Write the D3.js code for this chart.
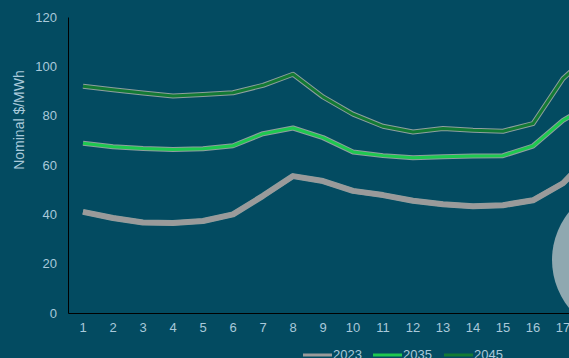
<!DOCTYPE html>
<html>
<head>
<meta charset="utf-8">
<script src="https://cdn.jsdelivr.net/npm/d3@7"></script>
<style>
  body { margin: 0; background: #034b61; }
  svg { display: block; }
</style>
</head>
<body>
<div id="chart"></div>
<script>
// hours of the day (only 1-17 fit in the picture)
const hours = d3.range(1, 25)
const series_names = ['2023', '2035', '2045']
const price_2023 = [41, 38.5, 36.7, 36.5, 37.3, 40, 47.5, 55.5, 53.5, 49.5, 47.8, 45.5, 44.1, 43.3, 43.7, 45.7, 52.6, 65, 68, 64, 57, 50, 45, 42]
const price_2035 = [68.8, 67.4, 66.7, 66.3, 66.6, 67.8, 72.7, 75, 71.1, 65.3, 63.8, 62.9, 63.3, 63.6, 63.8, 67.7, 78.1, 85, 88, 84, 78, 73, 70, 69]
const price_2045 = [91.9, 90.5, 89.2, 88, 88.6, 89.3, 92.3, 96.8, 87.6, 80.6, 75.7, 73.4, 74.8, 74.1, 73.7, 76.8, 95, 106, 110, 105, 99, 95, 93, 92]
const y_ticks = [0, 20, 40, 60, 80, 100, 120]

let colors = ['#9a9a9a', '#1ec84f', '#137a34']
let w_full = 569, h_full = 358
let margin = {top: 17, left: 68, bottom: 45}
let text_col = '#a9c9da'

let svg = d3.select('#chart')
    .append('svg')
    .attr('width', w_full)
    .attr('height', h_full)
    .style('font-family', 'Liberation Sans, Arial, sans-serif')

// full chart is wider than the window, it gets cut off on the right
const x = d3.scaleBand()
    .domain(hours)
    .range([margin.left, margin.left + 30 * hours.length])

const y = d3.scaleLinear()
    .domain([0, 120])
    .range([h_full - margin.bottom, margin.top])

// Y axis
let yAxis = svg.append('g')
    .attr('transform', 'translate(' + margin.left + ',0)')
    .call(d3.axisLeft(y).tickValues(y_ticks).tickSize(0).tickPadding(11))
yAxis.select('.domain').attr('stroke', '#000')
yAxis.selectAll('text').attr('fill', text_col).attr('font-size', 13)

// X axis
let xAxis = svg.append('g')
    .attr('transform', 'translate(0,' + y(0) + ')')
    .call(d3.axisBottom(x).tickSize(0).tickPadding(10))
xAxis.select('.domain').attr('stroke', '#000')
xAxis.selectAll('text').attr('fill', text_col).attr('font-size', 13)

svg.append('text')
    .text('Nominal $/MWh')
    .attr('transform', 'translate(24,120) rotate(-90)')
    .attr('text-anchor', 'middle')
    .attr('fill', text_col)
    .attr('font-size', 14)

const all_series = [price_2023, price_2035, price_2045]
const line = d3.line()
    .x((d, i) => x(hours[i]) + x.bandwidth() / 2)
    .y(d => y(d))

// each line has a pale outline under the coloured stroke
all_series.forEach(function(s, i) {
    svg.append('path')
        .datum(s)
        .attr('fill', 'none')
        .attr('stroke', '#8f9f9f')
        .attr('stroke-width', i == 0 ? 6 : 5)
        .attr('stroke-linejoin', 'round')
        .attr('d', line)
    svg.append('path')
        .datum(s)
        .attr('fill', 'none')
        .attr('stroke', colors[i])
        .attr('stroke-width', i == 0 ? 5 : 3)
        .attr('stroke-linejoin', 'round')
        .attr('d', line)
})

// decorative circle at the right edge
svg.append('circle')
    .attr('cx', 628)
    .attr('cy', 260)
    .attr('r', 76)
    .attr('fill', '#8fa8b0')

// legend
let legend = svg.append('g')
let lx = [303, 373, 444]
series_names.forEach(function(name, i) {
    legend.append('line')
        .attr('x1', lx[i]).attr('x2', lx[i] + 29)
        .attr('y1', 355).attr('y2', 355)
        .attr('stroke', colors[i])
        .attr('stroke-width', 3)
    legend.append('text')
        .text(name)
        .attr('x', lx[i] + 30)
        .attr('y', 359)
        .attr('fill', text_col)
        .attr('font-size', 13)
})
</script>
</body>
</html>
